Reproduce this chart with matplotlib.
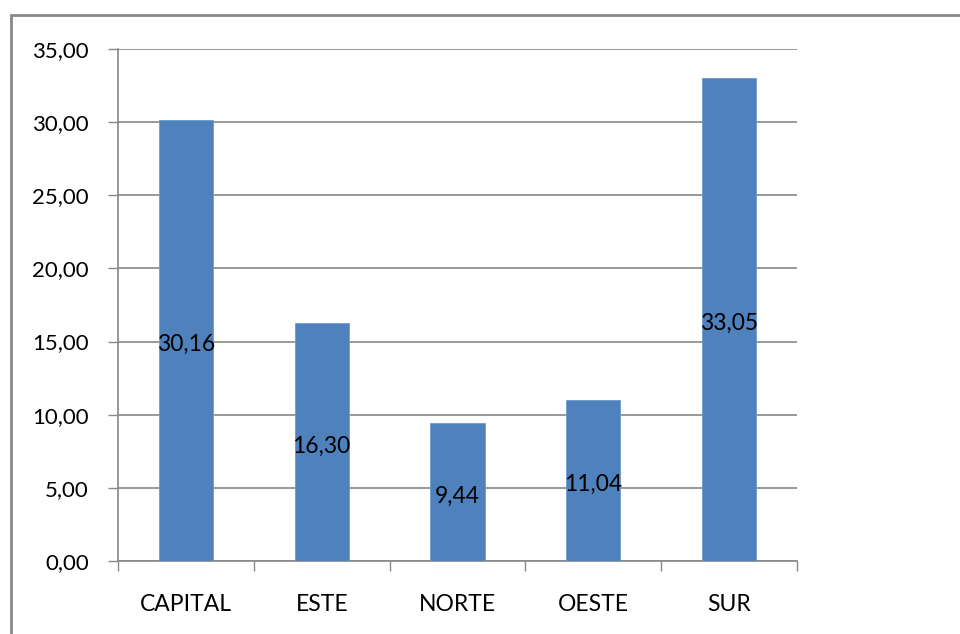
import matplotlib.pyplot as plt
from matplotlib.patches import Rectangle

zonas = ['CAPITAL', 'ESTE', 'NORTE', 'OESTE', 'SUR']
valores = [30.16, 16.30, 9.44, 11.04, 33.05]
ticks_y = [0, 5, 10, 15, 20, 25, 30, 35]

plt.rcParams['font.family'] = ['Lato', 'DejaVu Sans']

fig = plt.figure(figsize=(9.6, 6.34), dpi=100)
ax = fig.add_axes([118 / 960, 1 - 561 / 634, (797 - 118) / 960, (561 - 49) / 634])

gris = '#878787'
x = range(len(zonas))
ax.bar(x, valores, width=0.4, color='#4F81BD', edgecolor='#6F9AD0', linewidth=0.6, zorder=3)

# etiquetas de valor en el centro de cada barra
for i, v in enumerate(valores):
    ax.annotate(f'{v:.2f}'.replace('.', ','), (i, v / 2), xytext=(0, -3),
                textcoords='offset points', ha='center', va='center',
                fontsize=16.5, color='black', zorder=4)

ax.set_xlim(-0.5, len(zonas) - 0.5)
ax.set_ylim(0, 35)
ax.set_yticks(ticks_y)
ax.set_yticklabels([f'{t:.2f}'.replace('.', ',') for t in ticks_y], fontsize=16)
ax.yaxis.grid(True, color=gris, linewidth=1.2, zorder=0)

ax.set_xticks([i - 0.5 for i in range(len(zonas) + 1)])
ax.set_xticklabels([])
ax.set_xticks(list(x), minor=True)
ax.set_xticklabels(zonas, minor=True, fontsize=16.5)
ax.tick_params(axis='x', which='major', length=7, color=gris, width=1)
ax.tick_params(axis='x', which='minor', length=0, pad=24)
ax.tick_params(axis='y', length=7, color=gris, width=1, pad=14)

for lado in ['top', 'right']:
    ax.spines[lado].set_visible(False)
for lado in ['left', 'bottom']:
    ax.spines[lado].set_color(gris)
    ax.spines[lado].set_linewidth(1.2)

# marco del área del gráfico
fig.patches.append(Rectangle((10.5 / 960, -0.1), 1.2, 1 - 14.5 / 634 + 0.1,
                             transform=fig.transFigure, fill=False,
                             edgecolor='#888888', linewidth=2))

fig.savefig('out.png', dpi=100)
